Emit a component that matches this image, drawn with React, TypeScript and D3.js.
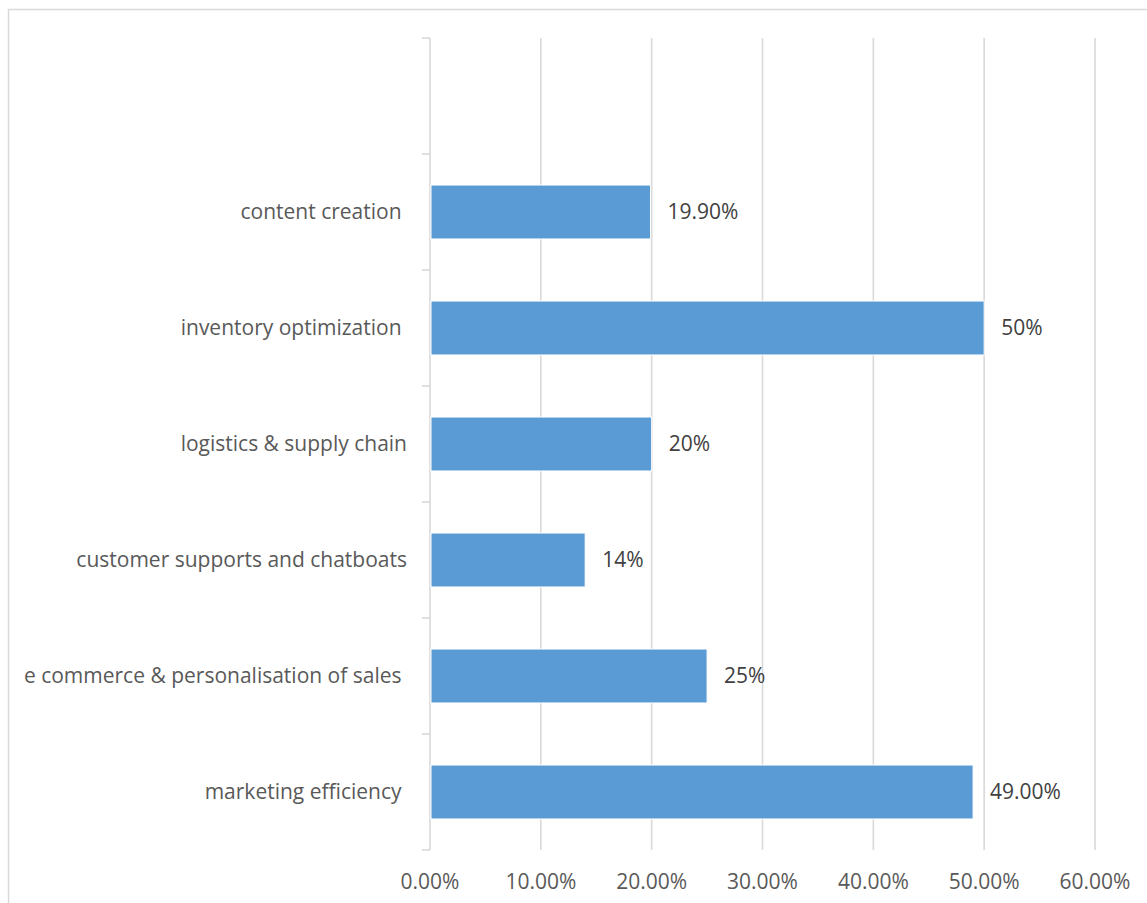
import React from "react";
import * as d3 from "d3";

const categories = [
  "content creation ",
  "inventory optimization ",
  "logistics & supply chain",
  "customer supports and chatboats",
  "e commerce & personalisation of sales ",
  "marketing efficiency ",
];
const values = [0.199, 0.5, 0.2, 0.14, 0.25, 0.49];
const valueLabels = ["19.90%", "50%", "20%", "14%", "25%", "49.00%"];
const xTicks = [0, 0.1, 0.2, 0.3, 0.4, 0.5, 0.6];

const W = 1147;
const H = 903;
const FONT = "'Open Sans', sans-serif";

export default function App() {
  const x = d3.scaleLinear().domain([0, 0.6]).range([430, 1095]);
  const slots = ["__empty__", ...categories];
  const y = d3
    .scaleBand<string>()
    .domain(slots)
    .range([38, 850])
    .paddingInner(0.535)
    .paddingOuter(0.2675);
  const step = y.step();
  const y0 = 38;
  const boundaries = d3.range(slots.length + 1).map((i) => y0 + i * step);
  const fmt = d3.format(".2%");

  return (
    <svg
      width={W}
      height={H}
      style={{ position: "absolute", left: 0, top: 0, background: "#fff" }}
    >
      <rect x={8.5} y={9.5} width={1200} height={1000} fill="#fff" stroke="#d9d9d9" strokeWidth={1.5} />
      {/* gridlines */}
      {xTicks.slice(1).map((t) => (
        <line key={t} x1={x(t)} x2={x(t)} y1={38} y2={850} stroke="#d9d9d9" strokeWidth={1.6} />
      ))}
      {/* category axis */}
      <line x1={430} x2={430} y1={38} y2={850} stroke="#d9d9d9" strokeWidth={1.6} />
      {boundaries.map((b, i) => (
        <line key={i} x1={422} x2={430} y1={b} y2={b} stroke="#d9d9d9" strokeWidth={1.6} />
      ))}
      {/* bars */}
      {categories.map((c, i) => (
        <rect
          key={c}
          x={x(0) + 1}
          y={y(c)!}
          width={x(values[i]) - x(0) - 1}
          height={y.bandwidth()}
          fill="#5B9BD5"
          stroke="#ffffff"
          strokeWidth={1}
        />
      ))}
      {/* value labels */}
      {categories.map((c, i) => (
        <text
          key={c}
          x={x(values[i]) + 17}
          y={y(c)! + y.bandwidth() / 2}
          dy="0.35em"
          fontFamily={FONT}
          fontSize={21}
          fill="#404040"
        >
          {valueLabels[i]}
        </text>
      ))}
      {/* category labels */}
      {categories.map((c) => (
        <text
          key={c}
          x={407}
          y={y(c)! + y.bandwidth() / 2}
          dy="0.35em"
          textAnchor="end"
          fontFamily={FONT}
          fontSize={21}
          fill="#595959"
          style={{ whiteSpace: "pre" }}
        >
          {c}
        </text>
      ))}
      {/* x tick labels */}
      {xTicks.map((t) => (
        <text
          key={t}
          x={x(t)}
          y={882}
          dy="0.35em"
          textAnchor="middle"
          fontFamily={FONT}
          fontSize={21}
          fill="#595959"
        >
          {fmt(t)}
        </text>
      ))}
    </svg>
  );
}
